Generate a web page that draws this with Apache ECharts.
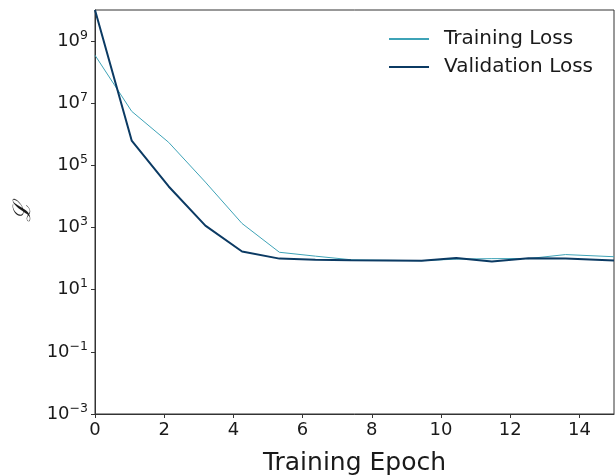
<!DOCTYPE html>
<html>
<head>
<meta charset="utf-8">
<script src="https://cdn.jsdelivr.net/npm/echarts@6/dist/echarts.min.js"></script>
<style>
  html, body { margin: 0; padding: 0; background: #fff; }
  #main { width: 616px; height: 476px; }
</style>
</head>
<body>
<div id="main"></div>
<script>
// epochs as they sit on the x axis
var epochs = [0, 1.06, 2.13, 3.19, 4.25, 5.33, 6.37, 7.4, 8.42, 9.44, 10.44, 11.47, 12.53, 13.6, 15];
var trainLoss = [3.5e8, 5.5e6, 5.5e5, 2.9e4, 1.35e3, 160, 120, 92, 88, 86, 96, 100, 100, 135, 115];
var valLoss = [1e10, 6.3e5, 2.1e4, 1.15e3, 170, 100, 92, 88, 87, 85, 105, 81, 102, 100, 87];
var xTicks = [0, 2, 4, 6, 8, 10, 12, 14];
var yTicks = [1e-3, 1e-1, 1e1, 1e3, 1e5, 1e7, 1e9];

var fontFam = 'DejaVu Sans';
var textCol = '#1a1a1a';

function pairs(xs, ys) {
  return xs.map(function (x, i) { return [x, ys[i]]; });
}

var myChart = echarts.init(document.getElementById('main'));
myChart.setOption({
  animation: false,
  grid: {
    left: 95, right: 2, top: 10, bottom: 62,
    outerBoundsMode: 'none',
    containLabel: false,
    show: true, borderColor: '#333', borderWidth: 1
  },
  legend: {
    orient: 'vertical',
    right: 18, top: 24,
    icon: 'rect',
    itemWidth: 40, itemHeight: 2, itemGap: 8,
    textStyle: { fontFamily: fontFam, fontSize: 20, color: textCol, padding: [0, 0, 0, 10] },
    data: ['Training Loss', 'Validation Loss']
  },
  xAxis: {
    type: 'value',
    min: 0, max: 15,
    name: 'Training Epoch',
    nameLocation: 'middle',
    nameGap: 37,
    nameTextStyle: { fontFamily: fontFam, fontSize: 25, color: textCol },
    axisLine: { lineStyle: { color: '#333', width: 1 } },
    axisTick: { customValues: xTicks, length: 4, lineStyle: { color: '#333' } },
    axisLabel: { customValues: xTicks, fontFamily: fontFam, fontSize: 18, color: textCol, margin: 7 },
    splitLine: { show: false }
  },
  yAxis: {
    type: 'log',
    logBase: 10,
    min: 1e-3, max: 1e10,
    name: 'ℒ',
    nameLocation: 'middle',
    nameGap: 52,
    nameRotate: 90,
    nameTextStyle: { fontFamily: 'DejaVu Serif', fontStyle: 'italic', fontSize: 24, color: textCol },
    axisLine: { lineStyle: { color: '#333', width: 1 } },
    axisTick: { customValues: yTicks, length: 4, lineStyle: { color: '#333' } },
    axisLabel: {
      customValues: yTicks,
      margin: 7,
      formatter: function (v) {
        var e = Math.round(Math.log10(v));
        return '{b|10}{s|' + (e < 0 ? '\u2212' + (-e) : e) + '}';
      },
      rich: {
        b: { fontFamily: fontFam, fontSize: 18, color: textCol },
        s: { fontFamily: fontFam, fontSize: 12.5, color: textCol, verticalAlign: 'top', padding: [0, 0, 11, 0] }
      }
    },
    splitLine: { show: false }
  },
  series: [
    {
      name: 'Training Loss',
      type: 'line',
      symbol: 'none',
      data: pairs(epochs, trainLoss),
      lineStyle: { color: '#3ea3b7', width: 1 },
      itemStyle: { color: '#3ea3b7' }
    },
    {
      name: 'Validation Loss',
      type: 'line',
      symbol: 'none',
      data: pairs(epochs, valLoss),
      lineStyle: { color: '#0b3a63', width: 2 },
      itemStyle: { color: '#0b3a63' }
    }
  ]
});
</script>
</body>
</html>
